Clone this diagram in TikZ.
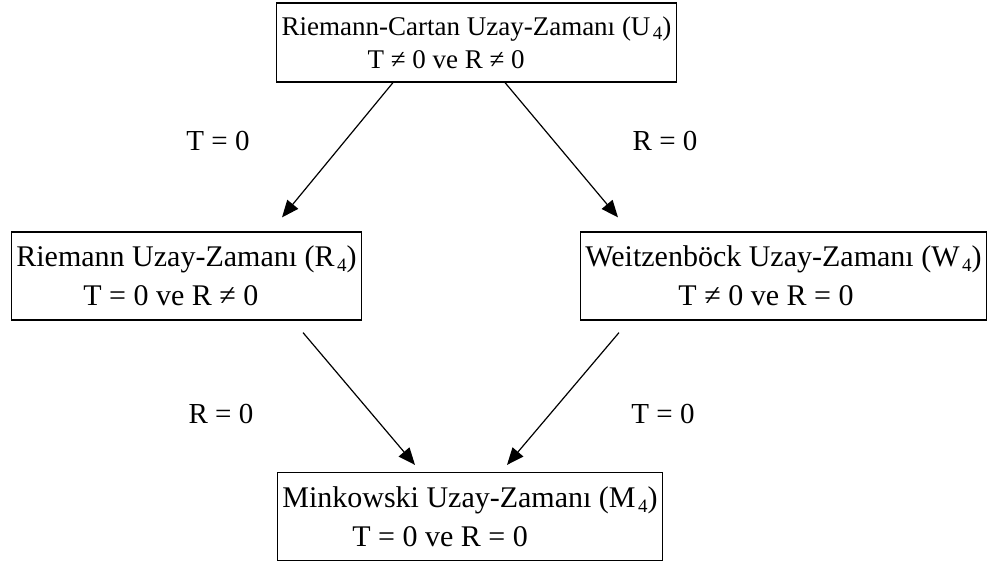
\documentclass[tikz,border=0pt]{standalone}
\usepackage{fontspec}
\setmainfont{Liberation Serif}
\usepackage{tikz}
\usetikzlibrary{arrows.meta,positioning}
\newcommand{\idx}[1]{\kern2.5pt\raisebox{-0.35ex}{\fontsize{19}{19}\selectfont #1}}

\begin{document}
\begin{tikzpicture}[x=1pt, y=-1pt,
  space/.style={draw, line width=1.2pt, align=left, inner xsep=5pt, font=\fontsize{30}{39}\selectfont, minimum height=88pt},
  topspace/.style={space, font=\fontsize{27}{33}\selectfont, minimum height=79pt},
  cond/.style={font=\fontsize{29}{34}\selectfont, anchor=base},
  arr/.style={-{Triangle[length=17pt,width=14pt]}, line width=1.2pt}
]
  \useasboundingbox (0,0) rectangle (987,567);

  \node[topspace] (uc) at (476.5,42.5) {Riemann-Cartan Uzay-Zamanı (U\idx{4})\\ \hspace*{86pt}T ≠ 0 ve R ≠ 0};
  \node[space] (riem) at (186.5,276) {Riemann Uzay-Zamanı (R\idx{4})\\ \hspace*{67pt}T = 0 ve R ≠ 0};
  \node[space] (weitz) at (783.5,276) {Weitzenböck Uzay-Zamanı (W\idx{4})\\ \hspace*{93pt}T ≠ 0 ve R = 0};
  \node[space] (mink) at (470,516.5) {Minkowski Uzay-Zamanı (M\idx{4})\\ \hspace*{70pt}T = 0 ve R = 0};

  \node[cond] (t1) at (218,150) {T = 0};
  \node[cond] (r1) at (665,150) {R = 0};
  \node[cond] (r2) at (221,423) {R = 0};
  \node[cond] (t2) at (663,423) {T = 0};

  \draw[arr] ([xshift=-83.5pt]uc.south) -- ([xshift=95.5pt,yshift=14pt]riem.north);
  \draw[arr] ([xshift=28.5pt]uc.south) -- ([xshift=-165.5pt,yshift=14pt]weitz.north);
  \draw[arr] ([xshift=116.5pt,yshift=-12pt]riem.south) -- ([xshift=-55pt,yshift=7pt]mink.north);
  \draw[arr] ([xshift=-164.5pt,yshift=-12pt]weitz.south) -- ([xshift=37pt,yshift=7pt]mink.north);
\end{tikzpicture}
\end{document}
